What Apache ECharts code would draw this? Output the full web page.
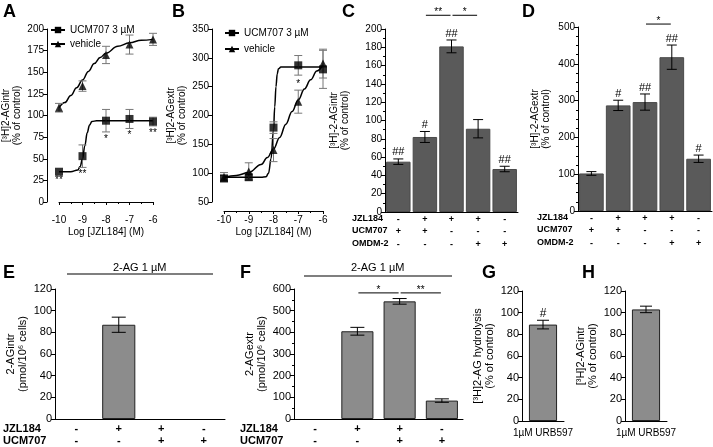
<!DOCTYPE html>
<html>
<head>
<meta charset="utf-8">
<script src="https://cdn.jsdelivr.net/npm/echarts@6/dist/echarts.min.js"></script>
<style>
  html, body { margin: 0; padding: 0; background: #fff; }
  #chart { width: 713px; height: 447px; }
</style>
</head>
<body>
<div id="chart"></div>
<script>
// ---- data ----
// A / B: log [JZL184] (M)
var logDose = [-10, -9, -8, -7, -6];
var aUcm = [35, 53, 94, 96, 93];
var aUcmErr = [2, 13, 13, 11, 5];
var aUcmStars = ['**', '**', '*', '*', '**'];
var aVeh = [109, 134, 170, 182, 188];
var aVehErr = [5, 6, 10, 11, 7];
// fitted curves, sampled by eye
var aUcmFitX = [-10, -9.5, -9.2, -9.1, -9, -8.9, -8.8, -8.7, -8.6, -8.4, -8, -6];
var aUcmFit = [35, 35, 37, 41, 50, 65, 80, 89, 93, 94, 94, 94];
var aVehFitX = [-10, -9.75, -9.5, -9.25, -9, -8.75, -8.5, -8.25, -8, -7.5, -7, -6.5, -6];
var aVehFit = [109, 115, 123, 132, 141, 151, 160, 167, 172, 180, 184, 187, 188];

var bUcm = [91, 93, 179, 287, 280];
var bUcmErr = [5, 5, 10, 17, 33];
var bVeh = [93, 103, 140, 224, 290];
var bVehErr = [8, 15, 20, 20, 25];
var bVehStars = ['', '', '', '*', ''];
var bUcmFitX = [-10, -8.5, -8.3, -8.2, -8.1, -8, -7.95, -7.9, -7.85, -7.8, -7.7, -6];
var bUcmFit = [93, 93, 94, 100, 125, 175, 215, 250, 272, 281, 284, 284];
var bVehFitX = [-10, -9.5, -9, -8.5, -8.25, -8, -7.75, -7.5, -7.25, -7, -6.75, -6.5, -6.25, -6];
var bVehFit = [93, 96, 101, 115, 127, 142, 162, 185, 207, 227, 246, 262, 277, 288];

// C / D
var cMean = [55, 82, 181, 91, 47];
var cErr = [3, 6, 7, 10, 3];
var cMarks = ['##', '#', '##', '', '##'];
var dMean = [102, 287, 296, 418, 142];
var dErr = [5, 14, 22, 33, 10];
var dMarks = ['', '#', '##', '##', '#'];
var cdJzl = ['-', '+', '+', '+', '-'];
var cdUcm = ['+', '+', '-', '-', '-'];
var cdOmdm = ['-', '-', '-', '+', '+'];
var cSig = [[1, 2, '**'], [2, 3, '*']];
var dSig = [[2, 3, '*']];

// E / F
var eMean = [null, 87, null, null];
var eErr = [0, 7, 0, 0];
var fMean = [null, 405, 543, 85];
var fErr = [0, 18, 13, 8];
var efJzl = ['-', '+', '+', '-'];
var efUcm = ['-', '-', '+', '+'];
var fSig = [[1, 2, '*'], [2, 3, '**']];

// G / H
var gMean = [89], gErr = [4], gMarks = ['#'];
var hMean = [103], hErr = [3];
var ghCats = ['1\u00b5M URB597'];

var FONT = '"Liberation Sans", Arial, sans-serif';

function pairs(xs, ys) {
  return xs.map(function (x, i) { return [x, ys[i]]; });
}

function idx(n) {
  var r = [];
  for (var i = 0; i < n; i++) r.push(i);
  return r;
}

// y axis helper
function yAx(grid, min, max, interval, name, gap, fs, extra) {
  var o = {
    gridIndex: grid, type: 'value', min: min, max: max, interval: interval,
    name: name, nameLocation: 'middle', nameRotate: 90, nameGap: gap,
    nameTextStyle: { fontSize: fs, lineHeight: fs + 1, color: '#000', fontFamily: FONT },
    axisLine: { show: true, lineStyle: { color: '#000', width: 1 } },
    axisTick: { show: true, length: 4, lineStyle: { color: '#000' } },
    axisLabel: { fontSize: fs, color: '#000', margin: 3, fontFamily: FONT },
    splitLine: { show: false }
  };
  for (var k in extra) o[k] = extra[k];
  return o;
}

function catAx(grid, n, fmt, fs, margin, lh, bold) {
  return {
    gridIndex: grid, type: 'category', data: idx(n).map(String),
    axisLine: { lineStyle: { color: '#000', width: 1 } },
    axisTick: { show: false },
    axisLabel: {
      interval: 0, margin: margin, fontSize: fs, lineHeight: lh, color: '#000',
      fontWeight: bold ? 'bold' : 'normal', fontFamily: FONT, formatter: fmt
    }
  };
}

function doseAx(grid) {
  return {
    gridIndex: grid, type: 'value', min: -10, max: -6, interval: 1, offset: 9,
    name: 'Log [JZL184] (M)', nameLocation: 'middle', nameGap: 16,
    nameTextStyle: { fontSize: 10, color: '#000', fontFamily: FONT },
    axisLine: { lineStyle: { color: '#000', width: 1 } },
    axisTick: { length: 3, lineStyle: { color: '#000' } },
    minorTick: { show: true, splitNumber: 2, length: 2, lineStyle: { color: '#000' } },
    axisLabel: { fontSize: 10, color: '#000', margin: 4, fontFamily: FONT },
    splitLine: { show: false }
  };
}

// error bars + significance marks, drawn through the axes
function errSeries(ax, xs, means, errs, marks, cap, pos, color, fs) {
  var data = [];
  for (var i = 0; i < means.length; i++) {
    if (means[i] == null) continue;
    data.push([xs[i], means[i], errs[i], i]);
  }
  return {
    type: 'custom', xAxisIndex: ax, yAxisIndex: ax, z: 5, silent: true,
    data: data,
    renderItem: function (params, api) {
      var x = api.value(0), m = api.value(1), e = api.value(2), k = api.value(3);
      var hi = api.coord([x, m + e]);
      var lo = api.coord([x, m - e]);
      var st = { stroke: color, lineWidth: 1 };
      var ch = [];
      if (e > 2) {
        ch.push({ type: 'line', shape: { x1: hi[0], y1: hi[1], x2: lo[0], y2: lo[1] }, style: st });
        ch.push({ type: 'line', shape: { x1: hi[0] - cap, y1: hi[1], x2: hi[0] + cap, y2: hi[1] }, style: st });
        ch.push({ type: 'line', shape: { x1: lo[0] - cap, y1: lo[1], x2: lo[0] + cap, y2: lo[1] }, style: st });
      }
      var t = marks ? marks[k] : '';
      if (t) {
        if (pos === 'below') {
          ch.push({ type: 'text', style: { text: t, x: lo[0], y: lo[1] + 2, align: 'center', verticalAlign: 'top', font: fs + 'px ' + FONT, fill: '#000' } });
        } else {
          ch.push({ type: 'text', style: { text: t, x: hi[0], y: hi[1] - 1, align: 'center', verticalAlign: 'bottom', font: fs + 'px ' + FONT, fill: '#000' } });
        }
      }
      return { type: 'group', children: ch };
    }
  };
}

function sigSeries(ax, sig, level) {
  return {
    type: 'custom', xAxisIndex: ax, yAxisIndex: ax, z: 6, silent: true, clip: false,
    data: sig.map(function (s) { return [s[0], level, s[1]]; }),
    renderItem: function (params, api) {
      var a = api.coord([api.value(0), api.value(1)]);
      var b = api.coord([api.value(2), api.value(1)]);
      var s = sig[params.dataIndex];
      return {
        type: 'group', children: [
          { type: 'line', shape: { x1: a[0] + 1, y1: a[1], x2: b[0] - 1, y2: b[1] }, style: { stroke: '#000', lineWidth: 1 } },
          { type: 'text', style: { text: s[2], x: (a[0] + b[0]) / 2, y: a[1] + 2, align: 'center', verticalAlign: 'bottom', font: '10px ' + FONT, fill: '#000' } }
        ]
      };
    }
  };
}

function curve(ax, name, xs, ys, sym) {
  return {
    type: 'line', name: name, xAxisIndex: ax, yAxisIndex: ax,
    data: pairs(xs, ys), smooth: 0.4, smoothMonotone: 'x',
    symbol: sym, symbolSize: 8, showSymbol: false,
    itemStyle: { color: '#000' }, lineStyle: { color: '#000', width: 1.5 }, z: 3
  };
}

function points(ax, name, ys, sym) {
  return {
    type: 'scatter', name: name, xAxisIndex: ax, yAxisIndex: ax,
    data: pairs(logDose, ys), symbol: sym, symbolSize: 8,
    itemStyle: { color: '#000' }, z: 7
  };
}

function bars(ax, means, color, border, gap) {
  return {
    type: 'bar', xAxisIndex: ax, yAxisIndex: ax, barCategoryGap: gap,
    data: means.map(function (v) { return v == null ? '-' : v; }),
    itemStyle: { color: color, borderColor: border, borderWidth: 1 }, silent: true
  };
}

function letter(t, x, y) {
  return { type: 'text', left: x, top: y, style: { text: t, font: 'bold 18px ' + FONT, fill: '#000' } };
}

function rowNames(text, x, y, fs, lh) {
  return { type: 'text', left: x, top: y, style: { text: text, font: 'bold ' + fs + 'px ' + FONT, lineHeight: lh, fill: '#000' } };
}

var UCM = 'UCM707 3 \u00b5M';
var VEH = 'vehicle';

var option = {
  animation: false,
  backgroundColor: '#fff',
  textStyle: { fontFamily: FONT },
  legend: [
    { data: [UCM, VEH], orient: 'vertical', left: 45, top: 20, itemWidth: 14, itemHeight: 8, itemGap: 4,
      textStyle: { fontSize: 10, color: '#000', fontFamily: FONT }, selectedMode: false },
    { data: [UCM, VEH], orient: 'vertical', left: 219, top: 23, itemWidth: 14, itemHeight: 8, itemGap: 6,
      textStyle: { fontSize: 10, color: '#000', fontFamily: FONT }, selectedMode: false }
  ],
  grid: [
    { left: 54, top: 29, width: 99, height: 173 },
    { left: 224, top: 29, width: 99, height: 173 },
    { left: 385, top: 29, width: 133, height: 183 },
    { left: 578, top: 27, width: 134, height: 184 },
    { left: 55, top: 289, width: 170, height: 130 },
    { left: 294, top: 289, width: 169, height: 130 },
    { left: 522, top: 291, width: 42, height: 130 },
    { left: 625, top: 291, width: 42, height: 130 }
  ],
  xAxis: [
    doseAx(0),
    doseAx(1),
    catAx(2, 5, function (v, i) { return cdJzl[i] + '\n' + cdUcm[i] + '\n' + cdOmdm[i]; }, 9, 1, 12.5, true),
    catAx(3, 5, function (v, i) { return cdJzl[i] + '\n' + cdUcm[i] + '\n' + cdOmdm[i]; }, 9, 1, 12.5, true),
    catAx(4, 4, function (v, i) { return efJzl[i] + '\n' + efUcm[i]; }, 11, 4, 12, true),
    catAx(5, 4, function (v, i) { return efJzl[i] + '\n' + efUcm[i]; }, 11, 4, 12, true),
    catAx(6, 1, function () { return ghCats[0]; }, 10, 6, 12, false),
    catAx(7, 1, function () { return ghCats[0]; }, 10, 6, 12, false)
  ],
  yAxis: [
    yAx(0, 0, 200, 25, '[\u00b3H]2-AGintr\n(% of control)', 24, 10, { offset: 12 }),
    yAx(1, 50, 350, 50, '[\u00b3H]2-AGextr\n(% of control)', 24, 10, { offset: 12 }),
    yAx(2, 0, 200, 20, '[\u00b3H]-2-AGintr\n(% of control)', 34, 10,
      { minorTick: { show: true, splitNumber: 2, length: 2, lineStyle: { color: '#000' } } }),
    yAx(3, 0, 500, 100, '[\u00b3H]-2-AGextr\n(% of control)', 26, 10,
      { minorTick: { show: true, splitNumber: 4, length: 2, lineStyle: { color: '#000' } } }),
    yAx(4, 0, 120, 20, '2-AGintr\n(pmol/10\u2076 cells)', 26, 11, {}),
    yAx(5, 0, 600, 100, '2-AGextr\n(pmol/10\u2076 cells)', 26, 11,
      { minorTick: { show: true, splitNumber: 2, length: 2, lineStyle: { color: '#000' } } }),
    yAx(6, 0, 120, 20, '[\u00b3H]2-AG hydrolysis\n(% of control)', 26, 11, {}),
    yAx(7, 0, 120, 20, '[\u00b3H]2-AGintr\n(% of control)', 26, 11, {})
  ],
  series: [
    // A
    curve(0, UCM, aUcmFitX, aUcmFit, 'rect'),
    curve(0, VEH, aVehFitX, aVehFit, 'triangle'),
    errSeries(0, logDose, aUcm, aUcmErr, aUcmStars, 4, 'below', '#777', 10),
    errSeries(0, logDose, aVeh, aVehErr, null, 4, 'above', '#777', 10),
    points(0, 'A ucm points', aUcm, 'rect'),
    points(0, 'A veh points', aVeh, 'triangle'),
    // B
    curve(1, UCM, bUcmFitX, bUcmFit, 'rect'),
    curve(1, VEH, bVehFitX, bVehFit, 'triangle'),
    errSeries(1, logDose, bUcm, bUcmErr, null, 4, 'above', '#777', 10),
    errSeries(1, logDose, bVeh, bVehErr, bVehStars, 4, 'above', '#777', 10),
    points(1, 'B ucm points', bUcm, 'rect'),
    points(1, 'B veh points', bVeh, 'triangle'),
    // C
    bars(2, cMean, '#5a5a5a', '#4a4a4a', '8%'),
    errSeries(2, idx(5), cMean, cErr, cMarks, 5, 'above', '#000', 11),
    sigSeries(2, cSig, 215),
    // D
    bars(3, dMean, '#5a5a5a', '#4a4a4a', '8%'),
    errSeries(3, idx(5), dMean, dErr, dMarks, 5, 'above', '#000', 11),
    sigSeries(3, dSig, 508),
    // E
    bars(4, eMean, '#8c8c8c', '#222', '22%'),
    errSeries(4, idx(4), eMean, eErr, null, 7, 'above', '#000', 11),
    // F
    bars(5, fMean, '#8c8c8c', '#222', '24%'),
    errSeries(5, idx(4), fMean, fErr, null, 7, 'above', '#000', 11),
    sigSeries(5, fSig, 582),
    // G
    bars(6, gMean, '#8c8c8c', '#222', '33%'),
    errSeries(6, [0], gMean, gErr, gMarks, 6, 'above', '#000', 12),
    // H
    bars(7, hMean, '#8c8c8c', '#222', '33%'),
    errSeries(7, [0], hMean, hErr, null, 6, 'above', '#000', 12)
  ],
  graphic: [
    letter('A', 3, 3),
    letter('B', 172, 3),
    letter('C', 342, 3),
    letter('D', 522, 3),
    letter('E', 3, 264),
    letter('F', 240, 264),
    letter('G', 482, 264),
    letter('H', 582, 264),
    rowNames('JZL184\nUCM707\nOMDM-2', 352, 212, 9, 12.5),
    rowNames('JZL184\nUCM707\nOMDM-2', 537, 211, 9, 12.5),
    rowNames('JZL184\nUCM707', 3, 423, 11, 12),
    rowNames('JZL184\nUCM707', 240, 423, 11, 12),
    { type: 'line', shape: { x1: 67, y1: 274, x2: 213, y2: 274 }, style: { stroke: '#000', lineWidth: 1.2 } },
    { type: 'text', left: 113, top: 262, style: { text: '2-AG 1 \u00b5M', font: '11px ' + FONT, fill: '#000' } },
    { type: 'line', shape: { x1: 304, y1: 276, x2: 452, y2: 276 }, style: { stroke: '#000', lineWidth: 1.2 } },
    { type: 'text', left: 351, top: 262, style: { text: '2-AG 1 \u00b5M', font: '11px ' + FONT, fill: '#000' } }
  ]
};

var chart = echarts.init(document.getElementById('chart'));
chart.setOption(option);
</script>
</body>
</html>
